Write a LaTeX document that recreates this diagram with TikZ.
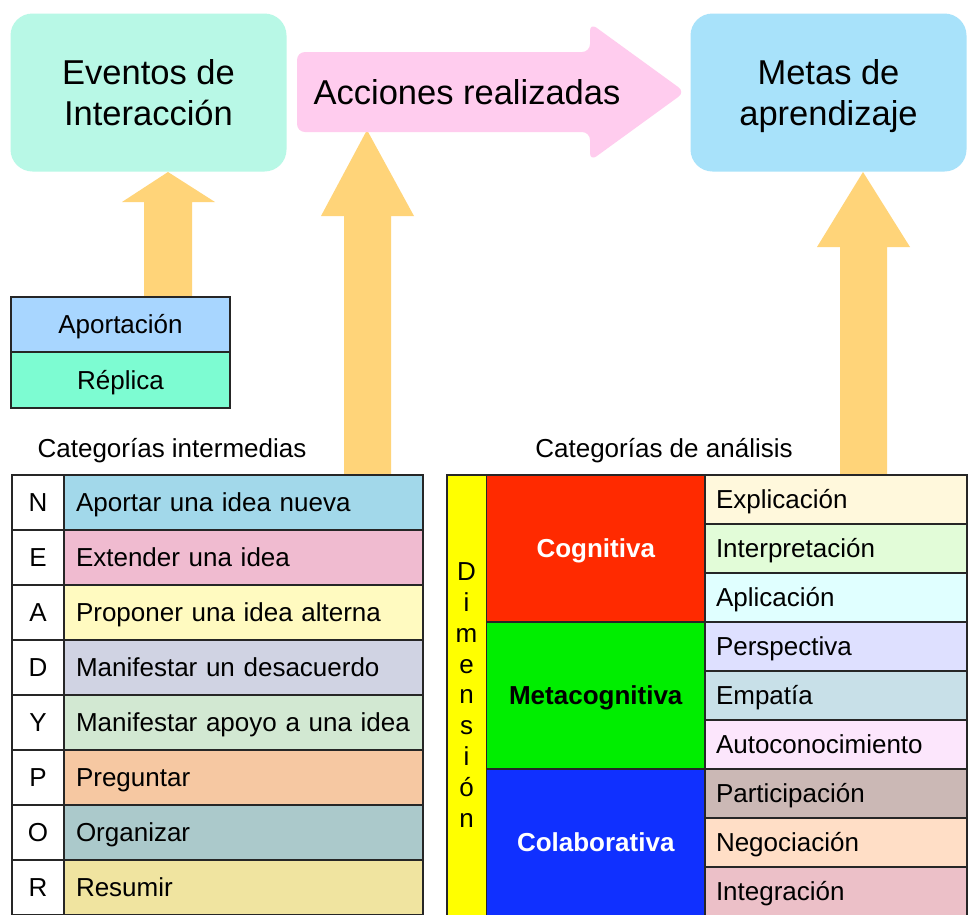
\documentclass[tikz,border=0pt]{standalone}
\usepackage{fontspec}
\setmainfont{Liberation Sans}
\definecolor{eventosc}{HTML}{B8F8E6}
\definecolor{metasc}{HTML}{A8E2FA}
\definecolor{pinkc}{HTML}{FFCCEE}
\definecolor{orangec}{HTML}{FFD479}
\definecolor{aportc}{HTML}{A8D6FF}
\definecolor{replicac}{HTML}{7DFCD2}
\definecolor{cN}{HTML}{A2D8EA}
\definecolor{cE}{HTML}{F0BBD0}
\definecolor{cA}{HTML}{FFFAC0}
\definecolor{cD}{HTML}{D0D3E3}
\definecolor{cY}{HTML}{D2E8D2}
\definecolor{cP}{HTML}{F6C8A2}
\definecolor{cO}{HTML}{ABC9CB}
\definecolor{cR}{HTML}{F0E4A0}
\definecolor{dimc}{HTML}{FFFF00}
\definecolor{cogc}{HTML}{FF2A00}
\definecolor{metac}{HTML}{00EE00}
\definecolor{colabc}{HTML}{1030FF}
\definecolor{c1}{HTML}{FFF8DC}
\definecolor{c2}{HTML}{E2FCD8}
\definecolor{c3}{HTML}{E0FFFF}
\definecolor{c4}{HTML}{DEE0FF}
\definecolor{c5}{HTML}{C8E0E8}
\definecolor{c6}{HTML}{FCE6FC}
\definecolor{c7}{HTML}{CBB8B5}
\definecolor{c8}{HTML}{FFDEC6}
\definecolor{c9}{HTML}{ECC0C8}
\begin{document}
\begin{tikzpicture}[x=1pt,y=-1pt,
  bigfont/.style={font=\fontsize{34.5}{41}\selectfont},
  midfont/.style={font=\fontsize{26}{30}\selectfont, text height=18.6pt, text depth=0pt},
  topbox/.style={rounded corners=22pt, minimum width=276pt, minimum height=158pt, inner sep=0pt, align=center, bigfont, text height=65.5pt, text depth=0pt},
  cell/.style={draw=black!85, line width=1.3pt, inner sep=0pt, outer sep=0pt, midfont},
  letcell/.style={cell, fill=white, minimum width=52pt, minimum height=55pt},
  ltcell/.style={cell, minimum height=55pt, text width=335pt, inner xsep=12pt, align=left},
  rtcell/.style={cell, minimum height=49pt, text width=240pt, inner xsep=11pt, align=left},
  bigcell/.style={cell, minimum width=218.5pt, minimum height=147pt, font=\fontsize{26}{30}\selectfont\bfseries},
  upar/.style={fill=orangec}
]
\useasboundingbox (0,0) rectangle (968,914);
\fill[white] (0,0) rectangle (968,914);

% orange arrows
\fill[upar] (144,297) -- (144,202) -- (122,202) -- (168,172) -- (215,202) -- (192,202) -- (192,297) -- cycle;
\fill[upar] (344,474) -- (344,216) -- (321,216) -- (367,130) -- (414,216) -- (391,216) -- (391,474) -- cycle;
\fill[upar] (840,474) -- (840,247) -- (817,247) -- (863,172) -- (910,247) -- (887,247) -- (887,474) -- cycle;

% top boxes
\node[topbox, fill=eventosc] (eventos) at (148.5,92.5) {Eventos de\\Interacción};
\node[topbox, fill=metasc] (metas) at (828.5,92.5) {Metas de\\aprendizaje};
\fill[pinkc, rounded corners=8pt] (297,52) -- (590,52) -- (590,23) -- (685,92) -- (590,161) -- (590,132) -- (297,132) -- cycle;
\node[bigfont, inner sep=0pt, text height=24.5pt, text depth=0pt] (acciones) at (467,92) {Acciones realizadas};

% Aportacion / Replica
\node[cell, fill=aportc, minimum width=219pt, minimum height=55pt] (aport) at (120.5,324.5) {Aportación};
\node[cell, fill=replicac, minimum width=219pt, minimum height=56pt] (replica) at (120.5,380) {Réplica};

% titles
\node[midfont, inner sep=0pt] (titint) at (172,448) {Categorías intermedias};
\node[midfont, inner sep=0pt] (titan) at (664,448) {Categorías de análisis};

% left table
\foreach \l/\t/\c [count=\i from 0] in {N/Aportar una idea nueva/cN, E/Extender una idea/cE, A/Proponer una idea alterna/cA, D/Manifestar un desacuerdo/cD, Y/Manifestar apoyo a una idea/cY, P/Preguntar/cP, O/Organizar/cO, R/Resumir/cR}{
  \node[letcell] (l\l) at (38,502.5+55*\i) {\l};
  \node[ltcell, fill=\c] (t\l) at (243.5,502.5+55*\i) {\t};
}

% right table
\node[cell, fill=dimc, minimum width=39.5pt, minimum height=441pt] (dimcol) at (466.75,695.5) {};
\node[font=\fontsize{26}{30.8}\selectfont, align=center, inner sep=0pt] (dimtxt) at (466.5,695) {D\\i\\m\\e\\n\\s\\i\\ó\\n};
\node[bigcell, fill=cogc, text=white] (cog) at (595.75,548.5) {Cognitiva};
\node[bigcell, fill=metac, text=black] (meta) at (595.75,695.5) {Metacognitiva};
\node[bigcell, fill=colabc, text=white] (colab) at (595.75,842.5) {Colaborativa};
\foreach \t/\c [count=\i from 0] in {Explicación/c1, Interpretación/c2, Aplicación/c3, Perspectiva/c4, Empatía/c5, Autoconocimiento/c6, Participación/c7, Negociación/c8, Integración/c9}{
  \node[rtcell, fill=\c] (r\i) at (836,499.5+49*\i) {\t};
}
\end{tikzpicture}
\end{document}
